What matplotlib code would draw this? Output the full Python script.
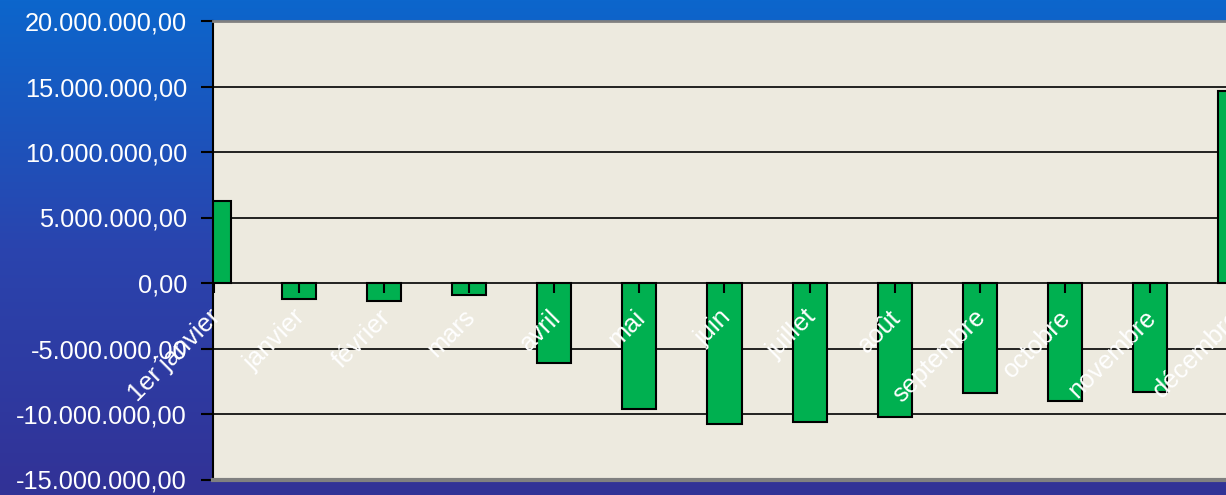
import numpy as np
import matplotlib
matplotlib.use("Agg")
import matplotlib.pyplot as plt
import matplotlib.transforms as mtransforms
from matplotlib.ticker import FuncFormatter, MultipleLocator
from matplotlib.colors import LinearSegmentedColormap

categories = ["1er janvier", "janvier", "février", "mars", "avril", "mai", "juin",
              "juillet", "août", "septembre", "octobre", "novembre", "décembre"]
values = [6.25e6, -1.25e6, -1.41e6, -0.95e6, -6.14e6, -9.63e6, -10.75e6,
          -10.6e6, -10.22e6, -8.43e6, -9.02e6, -8.31e6, 14.68e6]

plt.rcParams['font.family'] = ['Liberation Sans', 'DejaVu Sans']

W, H = 1226, 495
fig = plt.figure(figsize=(W / 100, H / 100), dpi=100)

# background gradient
bg = fig.add_axes([0, 0, 1, 1], zorder=-10)
cmap = LinearSegmentedColormap.from_list("bg", ["#0C66CC", "#2A44AE", "#323296"])
grad = np.linspace(0, 1, 256).reshape(-1, 1)
bg.imshow(grad, aspect="auto", cmap=cmap, extent=[0, 1, 0, 1], origin="upper")
bg.set_axis_off()

px0 = 212.7          # left edge of plot, pixels
pxcat = 85.1         # pixels per category
xmin, xmax = -0.014, 12.6
left = px0 / W
width = (xmax - xmin) * pxcat / W   # extends past the right edge of the figure
bottom = 1 - 479.5 / H
top = 1 - 21 / H
ax = fig.add_axes([left, bottom, width, top - bottom])
ax.set_facecolor("#EDEADF")

x = np.arange(len(categories))
ax.bar(x, values, width=0.40, color="#00B050", edgecolor="black", linewidth=1.5, zorder=2)

ax.set_ylim(-15e6, 20e6)
ax.set_xlim(xmin, xmax)
ax.yaxis.set_major_locator(MultipleLocator(5e6))

def fmt(v, pos):
    s = f"{abs(v):,.2f}".replace(",", "X").replace(".", ",").replace("X", ".")
    return ("-" if v < 0 else "") + s
ax.yaxis.set_major_formatter(FuncFormatter(fmt))

ax.set_axisbelow(True)
ax.grid(axis="y", color="black", linewidth=1.2)
ax.tick_params(axis="y", colors="black", labelcolor="white", labelsize=18.3,
               length=8.5, width=1.5, direction="out", pad=10)
ax.set_xticks([])

ax.spines["top"].set_color("#808080")
ax.spines["top"].set_linewidth(2)
ax.spines["bottom"].set_color("#808080")
ax.spines["bottom"].set_linewidth(3)
ax.spines["right"].set_visible(False)
ax.spines["left"].set_color("black")
ax.spines["left"].set_linewidth(1.5)

# category axis at zero
zero_frac = (0 - (-15e6)) / (20e6 - (-15e6))
sec = ax.secondary_xaxis(zero_frac)
sec.set_zorder(5)
sec.set_xticks(x)
sec.set_xticklabels(categories)
sec.spines["bottom"].set_visible(False)
sec.spines["top"].set_visible(False)
sec.tick_params(axis="x", direction="out", length=7, width=1.5, color="black",
                labelcolor="white", labelsize=18.3, pad=11)
offset = mtransforms.ScaledTranslation(-6 / 100, 3 / 100, fig.dpi_scale_trans)
for lab in sec.get_xticklabels():
    lab.set_rotation(45)
    lab.set_ha("right")
    lab.set_va("top")
    lab.set_rotation_mode("anchor")
    lab.set_transform(lab.get_transform() + offset)

fig.savefig("out.png", dpi=100)
